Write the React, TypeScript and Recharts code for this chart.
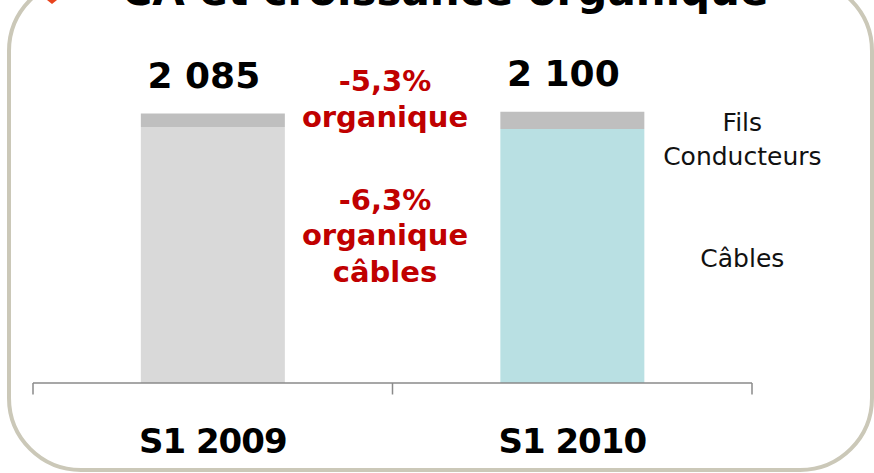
import React from "react";
import { BarChart, Bar, XAxis, YAxis, Cell, LabelList } from "recharts";

// H1 sales (M€), split Câbles / Fils Conducteurs
const periods = ["S1 2009", "S1 2010"];
const cables = [1980, 1965];
const fils = [105, 135];
const totals = [2085, 2100];
const seriesNames = ["Câbles", "Fils Conducteurs"];
const cableColors = ["#d9d9d9", "#b9e0e3"];
const yDomain = [0, 2500];

const data = periods.map((period, i) => ({
  period,
  cables: cables[i],
  fils: fils[i],
  total: totals[i],
}));

const W = 874;
const H = 473;
const MARGIN = { top: 60, right: 122, bottom: 0, left: 33 };
const BAND = (W - MARGIN.left - MARGIN.right) / periods.length;
const BOLD = "'DejaVu Sans', sans-serif";

const fmt = (n: number) => String(n).replace(/\B(?=(\d{3})+(?!\d))/g, " ");

function CategoryTick(props: any) {
  const { x, y, payload, index } = props;
  const last = index === periods.length - 1;
  return (
    <g>
      <line x1={x - BAND / 2} x2={x - BAND / 2} y1={y} y2={y + 11.5} stroke="#8a8a8a" strokeWidth={1.5} />
      {last && (
        <line x1={x + BAND / 2} x2={x + BAND / 2} y1={y} y2={y + 11.5} stroke="#8a8a8a" strokeWidth={1.5} />
      )}
      <text x={x} y={y + 70} textAnchor="middle" fontFamily={BOLD} fontWeight="bold" fontSize={34} letterSpacing={-1} fill="#000">
        {payload.value}
      </text>
    </g>
  );
}

function TotalLabel(props: any) {
  const { x, y, width, value } = props;
  return (
    <text x={x + width / 2 - 9} y={y - 26} textAnchor="middle" fontFamily={BOLD} fontWeight="bold" fontSize={36} fill="#000">
      {fmt(value)}
    </text>
  );
}

// series name written to the right of the last bar
function seriesLabel(name: string, firstDy: number) {
  return (props: any) => {
    const { x, y, width, height, index } = props;
    if (index !== periods.length - 1) return null;
    const cx = x + width + 98;
    const cy = y + height / 2;
    return (
      <text textAnchor="middle" fontFamily="'DejaVu Sans', sans-serif" fontSize={25} fill="#111">
        {name.split(" ").map((w, i) => (
          <tspan key={i} x={cx} y={cy + firstDy + i * 34}>
            {w}
          </tspan>
        ))}
      </text>
    );
  };
}

const red = "#c00000";
const notes = [
  { text: "-5,3%", y: 91 },
  { text: "organique", y: 127 },
  { text: "-6,3%", y: 210 },
  { text: "organique", y: 245 },
  { text: "câbles", y: 282 },
];

export default function App() {
  return (
    <div style={{ position: "absolute", left: 0, top: 0, width: W, height: H, background: "#fff", overflow: "hidden" }}>
      <svg width={W} height={H} style={{ position: "absolute", left: 0, top: 0 }}>
        <rect x={9} y={-21} width={863} height={491} rx={72} ry={72} fill="none" stroke="#cbc8b8" strokeWidth={4} />
        <polygon points="47,0 57,0 52,4" fill="#e8431d" />
        <text x={445} y={5} textAnchor="middle" fontFamily={BOLD} fontWeight="bold" fontSize={42} fill="#000">
          CA et croissance organique
        </text>
        {notes.map((n, i) => (
          <text key={i} x={385} y={n.y} textAnchor="middle" fontFamily={BOLD} fontWeight="bold" fontSize={29} fill={red}>
            {n.text}
          </text>
        ))}
      </svg>
      <div style={{ position: "absolute", left: 0, top: 0 }}>
        <BarChart width={W} height={H} data={data} margin={MARGIN} barCategoryGap="30%">
          <YAxis hide width={0} domain={yDomain} />
          <XAxis
            dataKey="period"
            height={H - 383}
            axisLine={{ stroke: "#8a8a8a", strokeWidth: 1.5 }}
            tickLine={false}
            tickSize={0}
            tickMargin={0}
            interval={0}
            tick={<CategoryTick />}
          />
          <Bar dataKey="cables" name={seriesNames[0]} stackId="a" isAnimationActive={false}>
            {data.map((_, i) => (
              <Cell key={i} fill={cableColors[i]} />
            ))}
            <LabelList dataKey="cables" content={seriesLabel(seriesNames[0], 11)} />
          </Bar>
          <Bar dataKey="fils" name={seriesNames[1]} stackId="a" fill="#bfbfbf" isAnimationActive={false}>
            <LabelList dataKey="total" content={<TotalLabel />} />
            <LabelList dataKey="fils" content={seriesLabel(seriesNames[1], 10.5)} />
          </Bar>
        </BarChart>
      </div>
    </div>
  );
}
